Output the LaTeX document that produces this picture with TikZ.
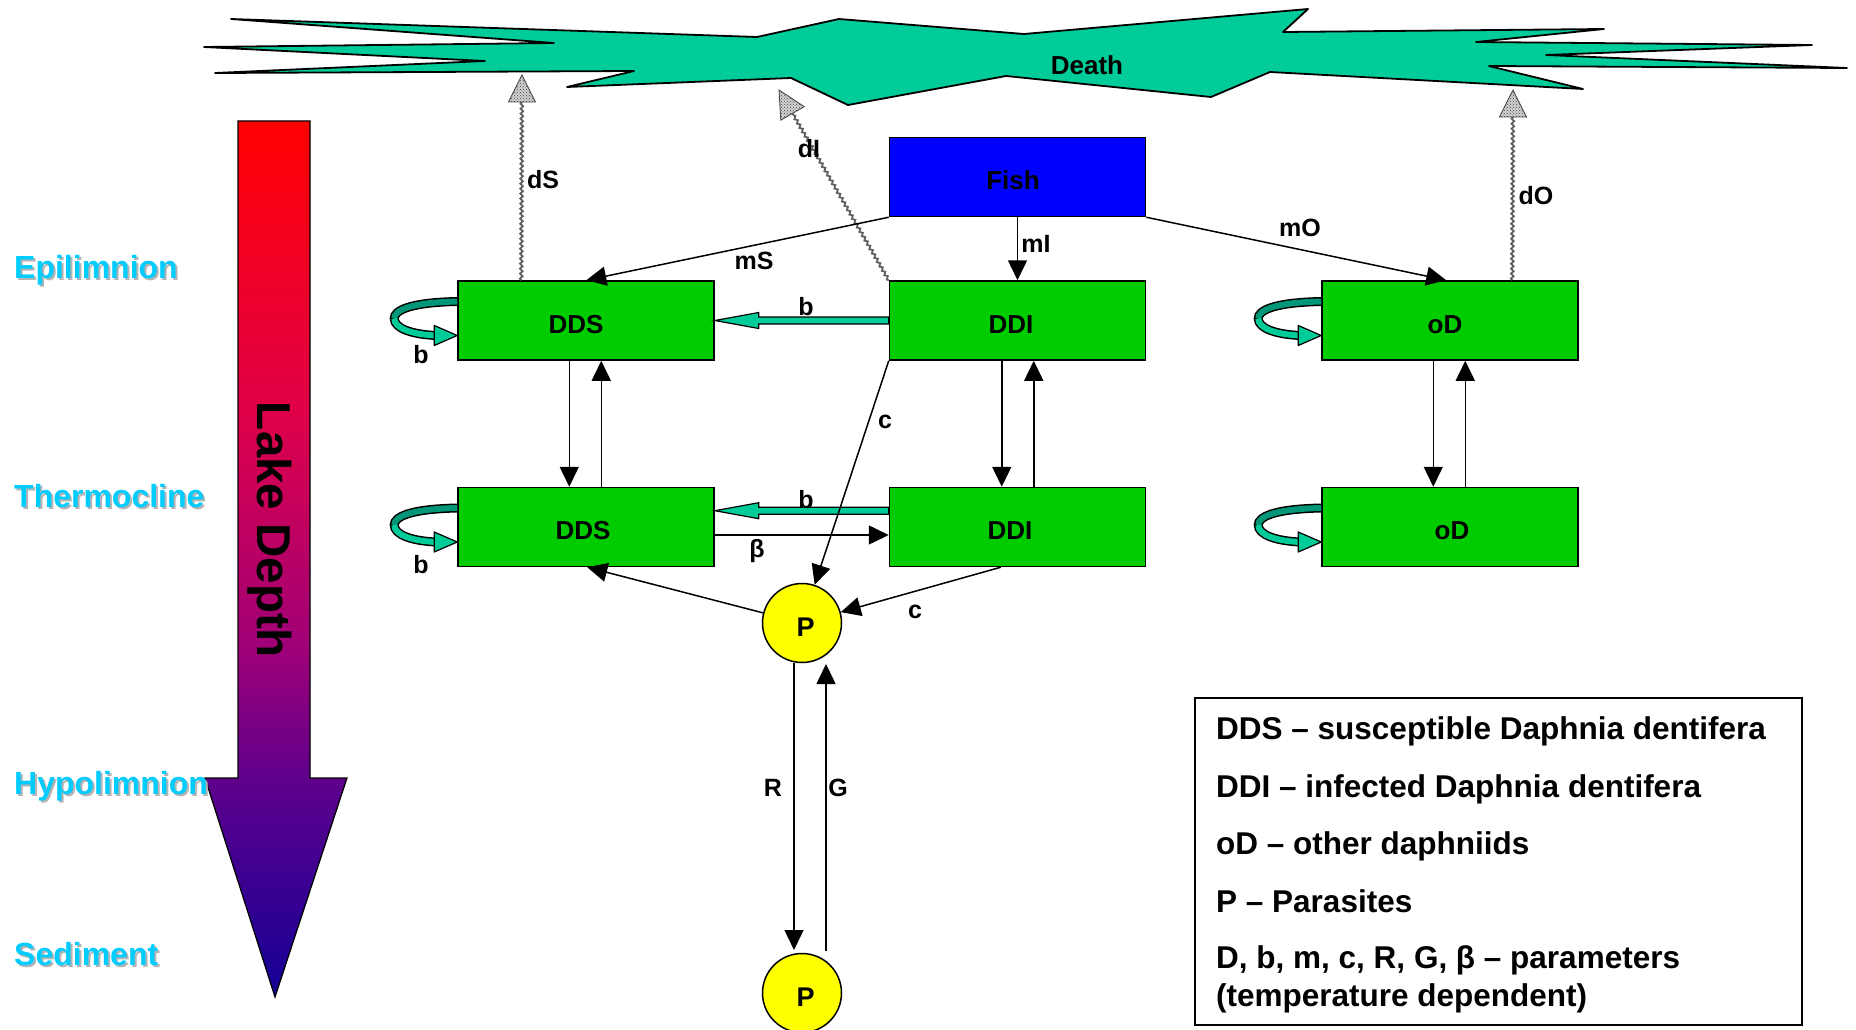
\documentclass[tikz,border=0pt]{standalone}
\usepackage{fontspec}
\setmainfont{Liberation Sans}
\usetikzlibrary{arrows.meta,calc,decorations.pathmorphing,patterns}
\definecolor{boxgreen}{RGB}{0,204,0}
\definecolor{fishblue}{RGB}{0,0,255}
\definecolor{deathteal}{RGB}{0,204,153}
\definecolor{loopdark}{RGB}{0,150,120}
\definecolor{pyellow}{RGB}{255,255,0}
\definecolor{layercyan}{RGB}{0,204,255}
\definecolor{layershadow}{RGB}{180,180,180}
\definecolor{ldA}{RGB}{20,0,150}
\definecolor{ldB}{RGB}{95,0,140}
\definecolor{ldC}{RGB}{160,0,120}
\definecolor{ldD}{RGB}{225,0,70}
\definecolor{ldE}{RGB}{255,0,0}
\pgfdeclareverticalshading{lakedepth}{100bp}{color(0bp)=(ldA); color(25bp)=(ldA); color(37.5bp)=(ldB); color(45bp)=(ldC); color(59bp)=(ldD); color(75bp)=(ldE); color(100bp)=(ldE)}
\newcommand\bxtxt[2]{\hspace*{#1}#2}
\tikzset{
  selfloop/.pic={
    \draw[line width=9pt] (0,-19) .. controls (-48,-18) and (-63,-10) .. (-63,-2) .. controls (-63,8) and (-45,14) .. (-21,15);
    \draw[line width=6pt, loopdark] (0,-19) .. controls (-48,-18) and (-63,-10) .. (-63,-2);
    \draw[line width=6pt, deathteal] (-63,-2) .. controls (-63,8) and (-45,14) .. (-21,15);
    \filldraw[fill=deathteal, draw=black, line width=1.2pt, line join=round] (-23,5) -- (0,15) -- (-23,25) -- cycle;
  }
}
\begin{document}
\begin{tikzpicture}[x=1pt,y=-1pt,
  box/.style={draw=black, line width=1.5pt, fill=boxgreen, minimum width=256pt, minimum height=79pt, inner sep=0pt, text height=25pt, text depth=0pt, font=\fontsize{26}{30}\selectfont\bfseries},
  pnode/.style={circle, draw=black, line width=1.5pt, fill=pyellow, minimum size=79pt, inner sep=0pt, text height=26pt, text depth=0pt, font=\fontsize{27}{30}\selectfont\bfseries},
  flow/.style={line width=1.5pt, -{Triangle[length=20pt,width=19pt]}},
  barrow/.style={fill=deathteal, draw=black, line width=1.2pt, line join=miter},
  lbl/.style={font=\fontsize{25}{28}\selectfont\bfseries, inner sep=0pt},
  layer/.style={font=\fontsize{32}{36}\selectfont\bfseries, text=layercyan, anchor=base west, inner sep=0pt},
  layerS/.style={font=\fontsize{32}{36}\selectfont\bfseries, text=layershadow, anchor=base west, inner sep=0pt},
  legtext/.style={font=\fontsize{31.5}{36}\selectfont\bfseries, anchor=base west, inner sep=0pt},
  deathline/.style={decorate, decoration={snake, amplitude=1.3pt, segment length=5pt}, draw=gray!75!black, line width=1.8pt},
  deathhead/.style={draw=gray!60!black, line width=0.9pt, fill=gray!35, postaction={pattern=crosshatch dots, pattern color=gray!50!black}}
]
\useasboundingbox (0,0) rectangle (1856,1030);

% Death starburst
\filldraw[fill=deathteal, draw=black, line width=1.8pt, line join=round]
  (231,19) -- (757,37) -- (839,19) -- (1024,34) -- (1308,9) -- (1283,32) -- (1604,29) -- (1476,42)
  -- (1812,45) -- (1546,55) -- (1847,68) -- (1489,66) -- (1583,89) -- (1270,72) -- (1211,97)
  -- (1006,76) -- (848,105) -- (791,78) -- (567,87) -- (634,71) -- (215,73) -- (485,61)
  -- (204,47) -- (554,43) -- cycle;
\node[font=\fontsize{26}{30}\selectfont\bfseries, inner sep=0pt] (deathlbl) at (1087,65) {Death};

% Lake depth arrow
\shadedraw[shading=lakedepth, draw=black, line width=1.2pt] (238,121) -- (310,121) -- (310,778) -- (347,778) -- (275,997) -- (205,778) -- (238,778) -- cycle;
\node[rotate=-90, font=\fontsize{47.5}{50}\selectfont\bfseries, inner sep=0pt] (lakelbl) at (270,530) {Lake Depth};

% layer labels
\node[layerS] (epiS) at (16,280) {Epilimnion};
\node[layer] (epi) at (14,278) {Epilimnion};
\node[layerS] (therS) at (16,509) {Thermocline};
\node[layer] (ther) at (14,507) {Thermocline};
\node[layerS] (hypoS) at (16,796) {Hypolimnion};
\node[layer] (hypo) at (14,794) {Hypolimnion};
\node[layerS] (sedS) at (16,967) {Sediment};
\node[layer] (sed) at (14,965) {Sediment};

% boxes
\node[box, fill=fishblue] (fish) at (1017.5,177) {\bxtxt{-9pt}{Fish}};
\node[box] (dds1) at (586,320.5) {\bxtxt{-20pt}{DDS}};
\node[box] (ddi1) at (1017.5,320.5) {\bxtxt{-13pt}{DDI}};
\node[box] (od1) at (1450,320.5) {\bxtxt{-10pt}{oD}};
\node[box] (dds2) at (586,527) {\bxtxt{-6pt}{DDS}};
\node[box] (ddi2) at (1017.5,527) {\bxtxt{-15pt}{DDI}};
\node[box] (od2) at (1450,527) {\bxtxt{4pt}{oD}};
\node[pnode] (p1) at (802,623) {\bxtxt{7pt}{P}};
\node[pnode] (p2) at (802,993) {\bxtxt{7pt}{P}};

% death arrows
\coordinate (dSfrom) at ($(dds1.north west)+(64,0)$);
\coordinate (dStip) at (522,75);
\coordinate (dSbase) at ($(dStip)!27pt!(dSfrom)$);
\draw[deathline] (dSfrom) -- (dSbase);
\draw[deathhead] (dStip) -- ($(dSbase)!13.5pt!90:(dStip)$) -- ($(dSbase)!13.5pt!-90:(dStip)$) -- cycle;

\coordinate (dIfrom) at (ddi1.north west);
\coordinate (dItip) at (779,90);
\coordinate (dIbase) at ($(dItip)!27pt!(dIfrom)$);
\draw[deathline] (dIfrom) -- (dIbase);
\draw[deathhead] (dItip) -- ($(dIbase)!13.5pt!90:(dItip)$) -- ($(dIbase)!13.5pt!-90:(dItip)$) -- cycle;

\coordinate (dOfrom) at ($(od1.north west)+(191,0)$);
\coordinate (dOtip) at (1513,90);
\coordinate (dObase) at ($(dOtip)!27pt!(dOfrom)$);
\draw[deathline] (dOfrom) -- (dObase);
\draw[deathhead] (dOtip) -- ($(dObase)!13.5pt!90:(dOtip)$) -- ($(dObase)!13.5pt!-90:(dOtip)$) -- cycle;

% self loops
\pic at (dds1.west) {selfloop};
\pic at (dds2.west) {selfloop};
\pic at (od1.west) {selfloop};
\pic at (od2.west) {selfloop};

% fish predation
\draw[flow] (fish.south west) -- ($(dds1.north west)+(129,0)$);
\draw[flow] (fish.south) -- (ddi1.north);
\draw[flow] (fish.south east) -- ($(od1.north west)+(125,0)$);

% vertical migration
\draw[flow] ($(dds1.south west)+(112,0)$) -- ($(dds2.north west)+(112,0)$);
\draw[flow] ($(dds2.north west)+(144,0)$) -- ($(dds1.south west)+(144,0)$);
\draw[flow] ($(ddi1.south west)+(113,0)$) -- ($(ddi2.north west)+(113,0)$);
\draw[flow] ($(ddi2.north west)+(145,0)$) -- ($(ddi1.south west)+(145,0)$);
\draw[flow] ($(od1.south west)+(112,0)$) -- ($(od2.north west)+(112,0)$);
\draw[flow] ($(od2.north west)+(144,0)$) -- ($(od1.south west)+(144,0)$);

% b arrows DDI -> DDS
\draw[barrow] ($(ddi1.west)+(0,-3.5)$) -- ($(dds1.east)+(44,-3.5)$) -- ($(dds1.east)+(44,-8)$) -- (dds1.east) -- ($(dds1.east)+(44,8)$) -- ($(dds1.east)+(44,3.5)$) -- ($(ddi1.west)+(0,3.5)$) -- cycle;
\draw[barrow] ($(ddi2.west)+(0,-19.8)$) -- ($(dds2.east)+(44,-19.8)$) -- ($(dds2.east)+(44,-24.3)$) -- ($(dds2.east)+(0,-16.3)$) -- ($(dds2.east)+(44,-8.3)$) -- ($(dds2.east)+(44,-12.8)$) -- ($(ddi2.west)+(0,-12.8)$) -- cycle;

% beta
\draw[flow] ($(dds2.east)+(0,8)$) -- ($(ddi2.west)+(0,8)$);

% parasite links
\draw[flow] (ddi1.south west) -- (p1);
\draw[flow] ($(ddi2.south west)+(112,0)$) -- (p1);
\draw[flow] (p1) -- ($(dds2.south west)+(130,0)$);
\draw[flow] ($(p1.center)+(-8,40)$) -- ($(p2.center)+(-8,-43)$);
\draw[flow] ($(p2.center)+(24,-42)$) -- ($(p1.center)+(24,41)$);

% labels
\node[lbl] (lmS) at (754,261) {mS};
\node[lbl] (lmI) at (1036,244) {mI};
\node[lbl] (lmO) at (1300,228) {mO};
\node[lbl] (ldS) at (543,180) {dS};
\node[lbl] (ldI) at (809,149) {dI};
\node[lbl] (ldO) at (1536,196) {dO};
\node[lbl] (lb1) at (806,307) {b};
\node[lbl] (lb2) at (806,500) {b};
\node[lbl] (lbeta) at (757,551) {β};
\node[lbl] (lc1) at (885,422) {c};
\node[lbl] (lc2) at (915,612) {c};
\node[lbl] (lbl1) at (421,355) {b};
\node[lbl] (lbl2) at (421,565) {b};
\node[lbl] (lR) at (773,788) {R};
\node[lbl] (lG) at (838,788) {G};

% legend
\node[draw=black, line width=1.5pt, fill=white, minimum width=607pt, minimum height=327pt, inner sep=0pt, anchor=north west] (legend) at (1194,697) {};
\node[legtext] (leg1) at (1216,739) {DDS – susceptible Daphnia dentifera};
\node[legtext] (leg2) at (1216,797) {DDI – infected Daphnia dentifera};
\node[legtext] (leg3) at (1216,854) {oD – other daphniids};
\node[legtext] (leg4) at (1216,912) {P – Parasites};
\node[legtext] (leg5) at (1216,968) {D, b, m, c, R, G, β – parameters};
\node[legtext] (leg6) at (1216,1006) {(temperature dependent)};
\end{tikzpicture}
\end{document}
